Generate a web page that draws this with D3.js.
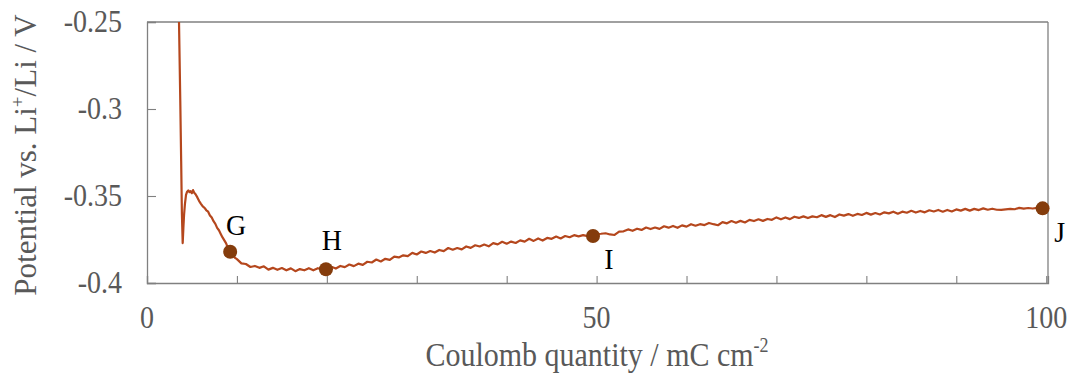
<!DOCTYPE html>
<html>
<head>
  <style>
    body { margin: 0; background: #fff; }
    svg text { font-family: "Liberation Serif", "Times New Roman", serif; }
  </style>
</head>
<body>
  <script src="https://d3js.org/d3.v7.min.js"></script>
  <script>
    // charge passed (mC cm-2) and electrode potential (V vs Li+/Li)
    const coulomb = [
      3.45, 3.56, 3.70, 3.80, 3.88, 3.97, 4.05, 4.12, 4.22, 4.34, 4.46, 4.59, 4.72, 4.85, 4.98, 5.12, 5.25, 5.4,
      5.6, 5.8, 6.0, 6.2, 6.4, 6.6, 6.8, 7.0, 7.2, 7.4, 7.6, 7.8, 8.0, 8.2, 8.4, 8.6, 8.8, 9.0, 9.2, 9.4, 9.6, 9.8,
      10.0, 10.5, 11.0, 11.5, 12.0, 12.5, 13.0, 13.5, 14.0, 14.5, 15.0, 15.5, 16.0, 16.5, 17.0, 17.5, 18.0, 18.5, 19.0, 19.5,
      20.0, 20.5, 21.0, 21.5, 22.0, 22.5, 23.0, 23.5, 24.0, 24.5, 25.0, 25.5, 26.0, 26.5, 27.0, 27.5, 28.0, 28.5, 29.0, 29.5,
      30.0, 30.5, 31.0, 31.5, 32.0, 32.5, 33.0, 33.5, 34.0, 34.5, 35.0, 35.5, 36.0, 36.5, 37.0, 37.5, 38.0, 38.5, 39.0, 39.5,
      40.0, 40.5, 41.0, 41.5, 42.0, 42.5, 43.0, 43.5, 44.0, 44.5, 45.0, 45.5, 46.0, 46.5, 47.0, 47.5, 48.0, 48.5, 49.0, 49.5,
      50.0, 50.5, 51.0, 51.5, 52.0, 52.5, 53.0, 53.5, 54.0, 54.5, 55.0, 55.5, 56.0, 56.5, 57.0, 57.5, 58.0, 58.5, 59.0, 59.5,
      60.0, 60.5, 61.0, 61.5, 62.0, 62.5, 63.0, 63.5, 64.0, 64.5, 65.0, 65.5, 66.0, 66.5, 67.0, 67.5, 68.0, 68.5, 69.0, 69.5,
      70.0, 70.5, 71.0, 71.5, 72.0, 72.5, 73.0, 73.5, 74.0, 74.5, 75.0, 75.5, 76.0, 76.5, 77.0, 77.5, 78.0, 78.5, 79.0, 79.5,
      80.0, 80.5, 81.0, 81.5, 82.0, 82.5, 83.0, 83.5, 84.0, 84.5, 85.0, 85.5, 86.0, 86.5, 87.0, 87.5, 88.0, 88.5, 89.0, 89.5,
      90.0, 90.5, 91.0, 91.5, 92.0, 92.5, 93.0, 93.5, 94.0, 94.5, 95.0, 95.5, 96.0, 96.5, 97.0, 97.5, 98.0, 98.5, 99.0, 99.5,
      99.8
    ];
    const potential = [
      -0.2300, -0.2500, -0.2950, -0.3300, -0.3600, -0.3771, -0.3680, -0.3610, -0.3545, -0.3494, -0.3475, -0.3468, -0.3478, -0.3472, -0.3484, -0.3466, -0.3481, -0.3490,
      -0.3508, -0.3529, -0.3545, -0.3560, -0.3568, -0.3582, -0.3590, -0.3612, -0.3624, -0.3645, -0.3660, -0.3683, -0.3697, -0.3718, -0.3738, -0.3755, -0.3772, -0.3799, -0.3812, -0.3830, -0.3843, -0.3856,
      -0.3863, -0.3887, -0.3891, -0.3908, -0.3902, -0.3913, -0.3904, -0.3923, -0.3913, -0.3924, -0.3914, -0.3927, -0.3916, -0.3932, -0.3920, -0.3927, -0.3915, -0.3927, -0.3915, -0.3921,
      -0.3917, -0.3907, -0.3917, -0.3902, -0.3909, -0.3894, -0.3903, -0.3889, -0.3896, -0.3878, -0.3882, -0.3865, -0.3876, -0.3861, -0.3867, -0.3848, -0.3853, -0.3841, -0.3846, -0.3827,
      -0.3836, -0.3819, -0.3827, -0.3816, -0.3825, -0.3810, -0.3817, -0.3799, -0.3809, -0.3799, -0.3807, -0.3790, -0.3798, -0.3783, -0.3790, -0.3779, -0.3789, -0.3771, -0.3778, -0.3763,
      -0.3774, -0.3762, -0.3770, -0.3755, -0.3762, -0.3746, -0.3758, -0.3744, -0.3756, -0.3741, -0.3746, -0.3733, -0.3744, -0.3730, -0.3737, -0.3725, -0.3732, -0.3725, -0.3731, -0.3724,
      -0.3719, -0.3717, -0.3714, -0.3721, -0.3724, -0.3705, -0.3703, -0.3692, -0.3700, -0.3688, -0.3695, -0.3681, -0.3690, -0.3681, -0.3689, -0.3674, -0.3682, -0.3672, -0.3683, -0.3669,
      -0.3676, -0.3662, -0.3671, -0.3662, -0.3667, -0.3655, -0.3662, -0.3668, -0.3650, -0.3657, -0.3644, -0.3654, -0.3643, -0.3652, -0.3637, -0.3644, -0.3634, -0.3643, -0.3632, -0.3637,
      -0.3623, -0.3634, -0.3623, -0.3633, -0.3619, -0.3626, -0.3617, -0.3627, -0.3617, -0.3622, -0.3610, -0.3620, -0.3610, -0.3621, -0.3606, -0.3613, -0.3604, -0.3614, -0.3603, -0.3609,
      -0.3597, -0.3607, -0.3598, -0.3606, -0.3594, -0.3600, -0.3590, -0.3602, -0.3590, -0.3596, -0.3585, -0.3595, -0.3586, -0.3594, -0.3582, -0.3589, -0.3580, -0.3590, -0.3580, -0.3589,
      -0.3577, -0.3584, -0.3574, -0.3584, -0.3574, -0.3581, -0.3571, -0.3579, -0.3573, -0.3579, -0.3580, -0.3577, -0.3574, -0.3576, -0.3568, -0.3573, -0.3569, -0.3572, -0.3568, -0.3571,
      -0.3570
    ];

    // marked states along the curve
    const markerLabels = ['G', 'H', 'I', 'J'];
    const markerX = [9.25, 19.9, 49.6, 99.6];
    const markerY = [-0.3820, -0.3921, -0.3730, -0.3571];

    const xTicks = [0, 10, 20, 30, 40, 50, 60, 70, 80, 90, 100];
    const xTickLabels = ['0', '', '', '', '', '50', '', '', '', '', '100'];
    const yTicks = [-0.25, -0.3, -0.35, -0.4];
    const yTickLabels = ['-0.25', '-0.3', '-0.35', '-0.4'];

    const width = 1071, height = 375;
    const margin = { top: 22, right: 23, bottom: 92, left: 147 };
    const gray = '#595959';
    const frame = '#808080';
    const stretch = 1.14; // glyphs in the source are drawn a little taller than wide

    const svg = d3.select('body').append('svg')
      .attr('width', width)
      .attr('height', height);

    const x = d3.scaleLinear()
      .domain([0, 100.2])
      .range([margin.left, width - margin.right]);

    const y = d3.scaleLinear()
      .domain([-0.4, -0.25])
      .range([height - margin.bottom, margin.top]);

    svg.append('defs').append('clipPath').attr('id', 'plot-clip')
      .append('rect')
      .attr('x', x.range()[0]).attr('y', y.range()[1])
      .attr('width', x.range()[1] - x.range()[0])
      .attr('height', y.range()[0] - y.range()[1]);

    // Axes (ticks point into the plot)
    const xAxis = d3.axisBottom(x).tickValues(xTicks).tickSize(-7).tickFormat('');
    const yAxis = d3.axisLeft(y).tickValues(yTicks).tickSize(-9).tickFormat('');

    const gx = svg.append('g')
      .attr('transform', `translate(0,${y(-0.4)})`)
      .call(xAxis);
    const gy = svg.append('g')
      .attr('transform', `translate(${x(0)},0)`)
      .call(yAxis);
    [gx, gy].forEach(g => {
      g.select('.domain').attr('stroke', frame).attr('stroke-width', 1.3);
      g.selectAll('.tick line').attr('stroke', frame).attr('stroke-width', 1.1);
    });

    // top and right frame
    svg.append('line')
      .attr('x1', x(0)).attr('x2', x(100.2))
      .attr('y1', y(-0.25)).attr('y2', y(-0.25))
      .attr('stroke', frame).attr('stroke-width', 1.3);
    svg.append('line')
      .attr('x1', x(100.2)).attr('x2', x(100.2))
      .attr('y1', y(-0.25)).attr('y2', y(-0.4))
      .attr('stroke', frame).attr('stroke-width', 1.3);

    // tick labels
    svg.append('g').selectAll('text')
      .data(xTicks.map((v, i) => ({ v, t: xTickLabels[i] })).filter(d => d.t))
      .join('text')
      .attr('transform', d => `translate(${x(d.v)},328) scale(1,${stretch})`)
      .attr('text-anchor', 'middle')
      .attr('fill', gray)
      .attr('font-size', 28)
      .text(d => d.t);

    svg.append('g').selectAll('text')
      .data(yTicks.map((v, i) => ({ v, t: yTickLabels[i] })))
      .join('text')
      .attr('transform', d => `translate(122,${y(d.v) + 9.5}) scale(1,${stretch})`)
      .attr('text-anchor', 'end')
      .attr('fill', gray)
      .attr('font-size', 28)
      .text(d => d.t);

    // axis titles
    const xt = svg.append('text')
      .attr('transform', `translate(597,366) scale(1,${stretch})`)
      .attr('text-anchor', 'middle')
      .attr('fill', gray)
      .attr('font-size', 30);
    xt.append('tspan').text('Coulomb quantity / mC cm');
    xt.append('tspan').attr('font-size', 18).attr('dy', -12).text('-2');

    const yt = svg.append('text')
      .attr('transform', 'translate(36,155) rotate(-90)')
      .attr('text-anchor', 'middle')
      .attr('fill', gray)
      .attr('font-size', 31);
    yt.append('tspan').text('Potential vs. Li');
    yt.append('tspan').attr('font-size', 19).attr('dy', -12).text('+');
    yt.append('tspan').attr('dy', 12).text('/Li / V');

    // potential trace
    const line = d3.line()
      .x(i => x(coulomb[i]))
      .y(i => y(potential[i]));

    svg.append('path')
      .datum(d3.range(coulomb.length))
      .attr('clip-path', 'url(#plot-clip)')
      .attr('d', line)
      .attr('fill', 'none')
      .attr('stroke', '#B5471D')
      .attr('stroke-width', 2.2)
      .attr('stroke-linejoin', 'round');

    // markers and letters
    const labelOffset = [[6, -17], [6, -19], [16, 33], [17, 34]];
    svg.append('g').selectAll('circle')
      .data(markerLabels)
      .join('circle')
      .attr('cx', (d, i) => x(markerX[i]))
      .attr('cy', (d, i) => y(markerY[i]))
      .attr('r', 7)
      .attr('fill', '#843C0C');

    svg.append('g').selectAll('text')
      .data(markerLabels)
      .join('text')
      .attr('transform', (d, i) =>
        `translate(${x(markerX[i]) + labelOffset[i][0]},${y(markerY[i]) + labelOffset[i][1]}) scale(1,1.05)`)
      .attr('text-anchor', 'middle')
      .attr('fill', '#000')
      .attr('font-size', 28)
      .text(d => d);
  </script>
</body>
</html>
